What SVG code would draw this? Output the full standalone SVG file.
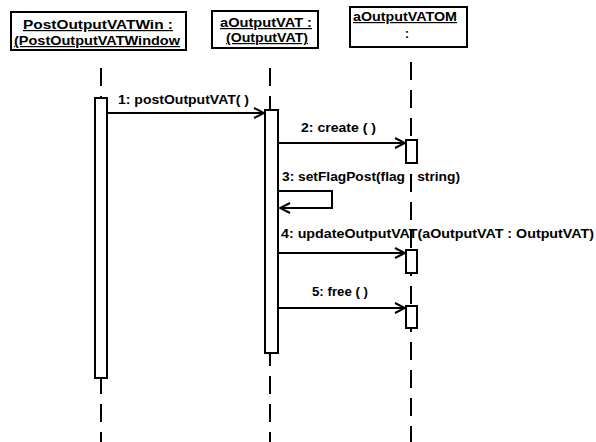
<svg xmlns="http://www.w3.org/2000/svg" width="596" height="442" viewBox="0 0 596 442">
<defs>
<style>
.box{fill:#fff;stroke:#000;stroke-width:2}
.act{fill:#fff;stroke:#000;stroke-width:2}
.life{stroke:#000;stroke-width:2;stroke-dasharray:18 10;fill:none}
.msg{stroke:#000;stroke-width:2;fill:none}
.t{font-family:"Liberation Sans",Arial,sans-serif;font-weight:bold;font-size:12px;fill:#000}
.u{text-decoration:underline}
</style>
<marker id="arr" viewBox="0 0 12 12" refX="11" refY="6" markerWidth="12" markerHeight="12" markerUnits="userSpaceOnUse" orient="auto">
<path d="M1,1 L11,6 L1,11" fill="none" stroke="#000" stroke-width="2"/>
</marker>
</defs>
<rect width="596" height="442" fill="#fff"/>
<g id="lifelines">
<line class="life" x1="101" y1="68" x2="101" y2="442"/>
<line class="life" x1="270" y1="68" x2="270" y2="442"/>
<line class="life" x1="411" y1="62" x2="411" y2="442"/>
</g>
<g id="head1">
<rect class="box" x="11" y="12" width="175" height="38"/>
<text class="t u" x="98" y="29" text-anchor="middle" textLength="150" lengthAdjust="spacingAndGlyphs">PostOutputVATWin :</text>
<text class="t u" x="97" y="45" text-anchor="middle" textLength="166" lengthAdjust="spacingAndGlyphs">(PostOutputVATWindow</text>
</g>
<g id="head2">
<rect class="box" x="212" y="11" width="106" height="37"/>
<text class="t u" x="266" y="27" text-anchor="middle" textLength="92" lengthAdjust="spacingAndGlyphs">aOutputVAT :</text>
<text class="t u" x="267" y="42" text-anchor="middle" textLength="82" lengthAdjust="spacingAndGlyphs">(OutputVAT)</text>
</g>
<g id="head3">
<rect class="box" x="350" y="7" width="117" height="40"/>
<text class="t u" x="405" y="21" text-anchor="middle" textLength="104" lengthAdjust="spacingAndGlyphs">aOutputVATOM</text>
<text class="t" x="407" y="38" text-anchor="middle">:</text>
</g>
<g id="activations">
<rect class="act" x="95" y="98" width="12" height="280"/>
<rect class="act" x="265" y="110" width="13" height="243"/>
<rect class="act" x="406" y="140" width="11" height="23"/>
<rect class="act" x="406" y="250" width="11" height="23"/>
<rect class="act" x="406" y="306" width="11" height="22"/>
</g>
<g id="connectors">
<line class="msg" x1="107" y1="113" x2="264" y2="113" marker-end="url(#arr)"/>
<line class="msg" x1="278" y1="143" x2="405" y2="143" marker-end="url(#arr)"/>
<path class="msg" d="M278,191 H332 V208 H280" marker-end="url(#arr)"/>
<line class="msg" x1="278" y1="253" x2="405" y2="253" marker-end="url(#arr)"/>
<line class="msg" x1="278" y1="308" x2="405" y2="308" marker-end="url(#arr)"/>
</g>
<g id="labels">
<text class="t" x="118" y="104" textLength="131" lengthAdjust="spacingAndGlyphs">1: postOutputVAT( )</text>
<text class="t" x="301" y="132" textLength="75" lengthAdjust="spacingAndGlyphs">2: create ( )</text>
<text class="t" x="282" y="181" textLength="178" lengthAdjust="spacingAndGlyphs">3: setFlagPost(flag : string)</text>
<text class="t" x="281" y="238" textLength="313" lengthAdjust="spacingAndGlyphs">4: updateOutputVAT(aOutputVAT : OutputVAT)</text>
<text class="t" x="312" y="296" textLength="56" lengthAdjust="spacingAndGlyphs">5: free ( )</text>
</g>
</svg>
